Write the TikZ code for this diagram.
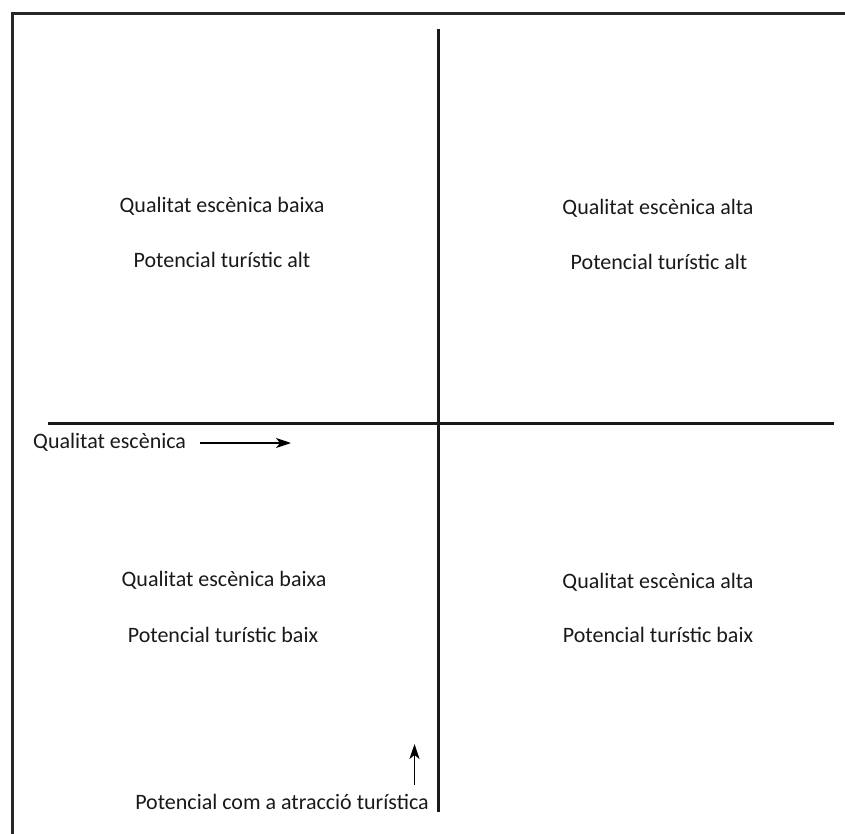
\documentclass[tikz,border=0pt]{standalone}
\usepackage{fontspec}
\setmainfont{Carlito}
\usetikzlibrary{arrows.meta}
\begin{document}
\begin{tikzpicture}[x=1pt,y=-1pt,
  lbl/.style={inner sep=0pt, font=\fontsize{22}{26}\selectfont, text=black!90},
  axis/.style={line width=2.4pt, black!90},
  frame/.style={line width=3pt, black!85},
  pointer/.style={line width=1.6pt, -{Stealth[length=15pt,width=10pt,inset=4pt]}}]
\useasboundingbox (0,0) rectangle (845,834);
% frame: top and left edges
\coordinate (ftl) at (12.7,14);
\coordinate (ftr) at (845,14);
\coordinate (fbl) at (12.7,834);
\draw[frame] (ftr) -- (ftl) -- (fbl);
% axes
\coordinate (hl) at (48,423.5);
\coordinate (hr) at (834,423.5);
\coordinate (vt) at (438.5,29);
\coordinate (vb) at (438.5,812);
\draw[axis] (hl) -- (hr);
\draw[axis] (vt) -- (vb);
% quadrant labels
\node[lbl] (q1a) at (222,206) {Qualitat escènica baixa};
\node[lbl] (q1b) at (222,260) {Potencial turístic alt};
\node[lbl] (q2a) at (658,208) {Qualitat escènica alta};
\node[lbl] (q2b) at (659,262) {Potencial turístic alt};
\node[lbl] (q3a) at (224,580) {Qualitat escènica baixa};
\node[lbl] (q3b) at (223,635) {Potencial turístic baix};
\node[lbl] (q4a) at (658,582) {Qualitat escènica alta};
\node[lbl] (q4b) at (658,635) {Potencial turístic baix};
% axis captions with pointers
\node[lbl, anchor=west] (xcap) at (33,442) {Qualitat escènica};
\coordinate (xa0) at (200,443);
\coordinate (xa1) at (291,443);
\draw[pointer] (xa0) -- (xa1);
\node[lbl] (ycap) at (282,802) {Potencial com a atracció turística};
\coordinate (ya0) at (414.5,785);
\coordinate (ya1) at (414.5,744);
\draw[pointer] (ya0) -- (ya1);
\end{tikzpicture}
\end{document}
